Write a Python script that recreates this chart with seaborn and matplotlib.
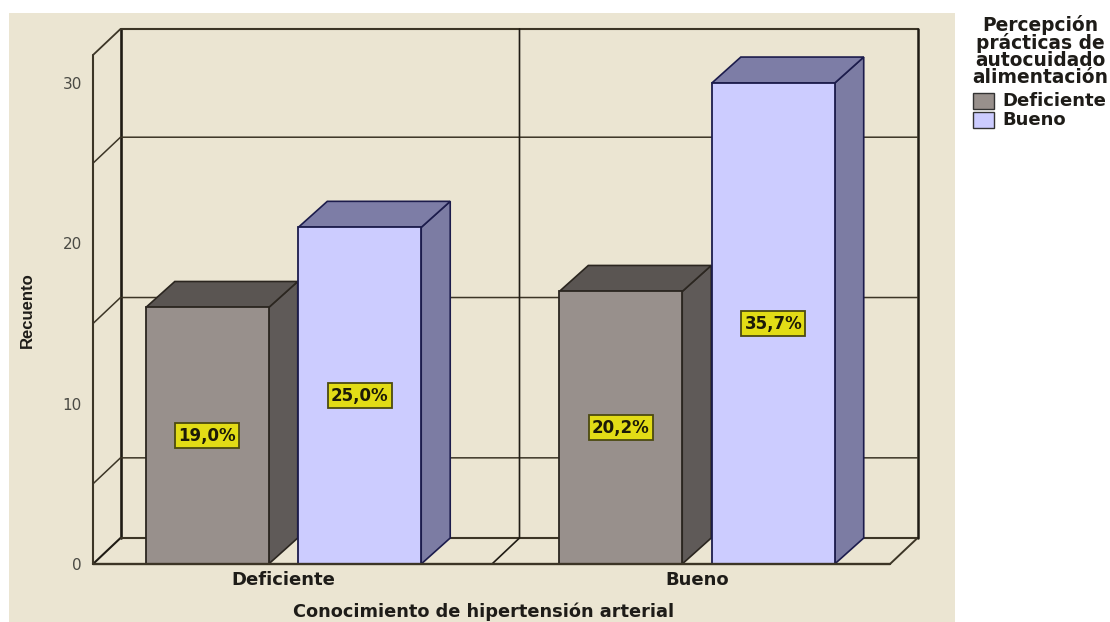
import matplotlib
matplotlib.use("Agg")
import matplotlib.pyplot as plt
from matplotlib.patches import Polygon, Rectangle
import pandas as pd
import seaborn as sns

# valores
conocimiento = ["Deficiente", "Bueno"]
percepcion = ["Deficiente", "Bueno"]
recuento_deficiente = [16, 17]
recuento_bueno = [21, 30]
etiquetas_deficiente = ["19,0%", "20,2%"]
etiquetas_bueno = ["25,0%", "35,7%"]
ticks_y = [0, 10, 20, 30]
rejilla_y = [5, 15, 25]

W, H = 1110, 622
FONDO = "#ebe5d2"
LINEA = "#3c3526"
OSCURO = "#1f1b14"
TEXTO = "#1e1c18"
colores = ["#98908c", "#ccccff"]
lado = ["#5f5a58", "#7c7ca3"]
tapa = ["#5a5552", "#7d7da6"]
bordes = ["#2b2620", "#1c1c4c"]

df = pd.DataFrame({
    "conocimiento": conocimiento * 2,
    "percepcion": [percepcion[0]] * 2 + [percepcion[1]] * 2,
    "recuento": recuento_deficiente + recuento_bueno,
})

sns.set_theme(style="white")
plt.rcParams["font.family"] = ["DejaVu Sans"]

fig = plt.figure(figsize=(W / 100, H / 100), dpi=100, facecolor="white")
fig.add_artist(Rectangle((9 / W, 0), 946 / W, 609 / H, transform=fig.transFigure,
                         facecolor=FONDO, edgecolor="none", zorder=-5))

# el eje es la cara frontal de la caja 3D
x0, x1, y_sup, y_inf = 93, 890, 55, 564
ax = fig.add_axes([x0 / W, 1 - y_inf / H, (x1 - x0) / W, (y_inf - y_sup) / H])
ax.patch.set_alpha(0)

sns.barplot(data=df, x="conocimiento", y="recuento", hue="percepcion",
            order=conocimiento, hue_order=percepcion, palette=colores,
            width=0.7376, gap=0.194, saturation=1, edgecolor="#2b2620",
            linewidth=1.3, legend=False, ax=ax, zorder=5)

ax.set_xlim(-0.4607, 1.4667)
ax.set_ylim(0, 31.75)
y_top = 31.75

# profundidad en unidades de datos
dx_caja = 27.5 / 413.5
dx = 29 / 413.5
dy = 26 / 16.03

xa, xb = ax.get_xlim()
ax.plot([xa, xa + dx_caja], [0, dy], color=OSCURO, lw=1.5, clip_on=False, zorder=1)
ax.plot([xa + dx_caja, xa + dx_caja], [dy, y_top + dy], color=OSCURO, lw=1.9, clip_on=False, zorder=1)
ax.plot([xa, xa], [0, y_top], color=LINEA, lw=1.5, clip_on=False, zorder=1)
ax.plot([xa, xa + dx_caja], [y_top, y_top + dy], color=LINEA, lw=1.3, clip_on=False, zorder=1)
ax.plot([xa + dx_caja, xb + dx_caja], [y_top + dy] * 2, color=LINEA, lw=1.5, clip_on=False, zorder=1)
ax.plot([xa + dx_caja, xb + dx_caja], [dy, dy], color=LINEA, lw=1.5, clip_on=False, zorder=1)
ax.plot([xa, xb], [0, 0], color=LINEA, lw=1.7, clip_on=False, zorder=6)
ax.plot([xb, xb + dx_caja], [0, dy], color=LINEA, lw=1.4, clip_on=False, zorder=1)
ax.plot([xb + dx_caja, xb + dx_caja], [dy, y_top + dy], color=OSCURO, lw=1.8, clip_on=False, zorder=1)
for v in rejilla_y:
    ax.plot([xa, xa + dx_caja, xb + dx_caja], [v, v + dy, v + dy], color=LINEA, lw=1.1, clip_on=False, zorder=1)

# division entre las dos categorias
xm = 0.5042
ax.plot([xm, xm + dx_caja, xm + dx_caja], [0, dy, y_top + dy], color=OSCURO, lw=1.2, clip_on=False, zorder=1)

# caras lateral y superior de cada barra, a partir de los rectangulos de seaborn
barras = list(ax.patches)
for i, b in enumerate(barras):
    serie = i // 2
    b.set_edgecolor(bordes[serie])
    kw = dict(clip_on=False, edgecolor=bordes[serie], linewidth=1.2, zorder=4)
    izq, der, alto = b.get_x(), b.get_x() + b.get_width(), b.get_height()
    ax.add_patch(Polygon([(der, 0), (der + dx, dy), (der + dx, alto + dy), (der, alto)],
                         facecolor=lado[serie], **kw))
    ax.add_patch(Polygon([(izq, alto), (izq + dx, alto + dy), (der + dx, alto + dy), (der, alto)],
                         facecolor=tapa[serie], **kw))

# etiquetas amarillas
etiquetas = etiquetas_deficiente + etiquetas_bueno
for b, txt in zip(barras, etiquetas):
    ax.text(b.get_x() + b.get_width() / 2, b.get_height() / 2, txt, ha="center", va="center",
            fontsize=12, fontweight="bold", color="#1c1a08", zorder=8,
            bbox=dict(boxstyle="square,pad=0.2", facecolor="#e2dc16", edgecolor="#4c4a10", linewidth=1.3))

ax.set_xticks([0, 1])
ax.set_xticklabels(conocimiento, fontsize=13, fontweight="bold", color=TEXTO)
ax.set_yticks(ticks_y)
ax.set_yticklabels(ticks_y, fontsize=11, color="#4a4a44")
ax.tick_params(axis="x", length=0, pad=5)
ax.tick_params(axis="y", length=0, pad=8)
ax.set_xlabel("")
ax.set_ylabel("")
sns.despine(ax=ax, left=True, bottom=True)

fig.text(484 / W, 1 - 612 / H, "Conocimiento de hipertensión arterial", ha="center", va="center",
         fontsize=12.8, fontweight="bold", color=TEXTO)
fig.text(27 / W, 1 - 310 / H, "Recuento", rotation=90, ha="center", va="center",
         fontsize=12, fontweight="bold", color=TEXTO, family=["Liberation Sans", "DejaVu Sans"])

# leyenda
fig.text(1040 / W, 1 - 51 / H, "Percepción\nprácticas de\nautocuidado\nalimentación", ha="center", va="center",
         fontsize=13.4, fontweight="bold", linespacing=0.85, color=TEXTO)
for y, color, txt in zip([101, 120], colores, percepcion):
    fig.add_artist(Rectangle((973 / W, 1 - (y + 8) / H), 21 / W, 16 / H, transform=fig.transFigure,
                             facecolor=color, edgecolor="#333333", linewidth=1))
    fig.text(1002 / W, 1 - y / H, txt, ha="left", va="center", fontsize=13, fontweight="bold", color=TEXTO)

fig.savefig("out.png", dpi=100, facecolor="white")
